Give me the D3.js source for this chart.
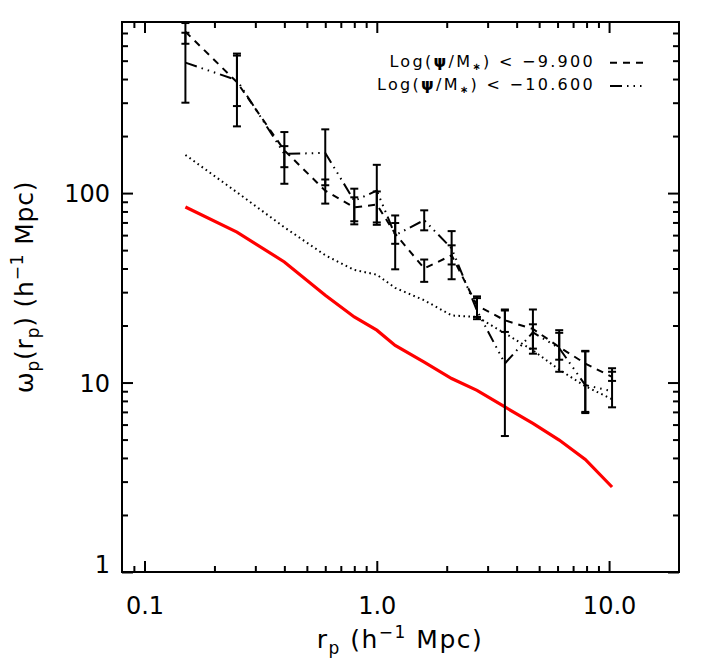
<!DOCTYPE html>
<html><head><meta charset="utf-8">
<script src="https://cdn.jsdelivr.net/npm/d3@7"></script>
<style>
body{margin:0;background:#fff}
svg{display:block}
text{font-family:"DejaVu Sans",sans-serif;fill:#000}
</style>
</head><body>
<svg id="chart" width="706" height="663"></svg>
<script>
// ---- data ----
const rp = [0.15, 0.25, 0.40, 0.60, 0.80, 1.0, 1.2, 1.6, 2.1, 2.7, 3.56, 4.7, 6.1, 7.9, 10.3];
// Log(psi/M*) < -9.900 (dashed)
const wA   = [711, 385, 168, 103, 84, 87, 61, 40, 47, 25.5, 21.3, 19.2, 15.4, 12.6, 10.7];
const wAlo = [614, 288, 137, 88, 71, 70, 54, 34, 42, 22.2, 18.5, 15.1, 13.2, 7.0, 10.2];
const wAhi = [790, 532, 177, 118, 95, 102, 69.5, 44.6, 53, 27.9, 24.0, 20.3, 18.3, 14.6, 11.4];
// Log(psi/M*) < -10.600 (dash-dot-dot-dot)
const wB   = [488, 395, 161, 163, 91, 103, 60, 72, 51, 24, 12.6, 18.4, 15.2, 9.7, 9.0];
const wBlo = [300, 225, 112, 110, 68.4, 68, 39.6, 63.6, 35.1, 21.6, 5.22, 14.2, 11.4, 6.9, 7.4];
const wBhi = [702, 545, 210, 217, 105.5, 141, 76.2, 81.1, 63, 28.5, 24.3, 24.3, 18.9, 14.7, 11.9];
// plain dotted curve
const wC   = [159, 101, 66, 47, 39.3, 37.1, 31.6, 27.2, 22.6, 22.2, 18.2, 14.8, 11.7, 9.56, 8.17];
// red solid curve
const wRed = [84.4, 62.3, 43.3, 28.9, 22.2, 18.9, 15.7, 12.8, 10.5, 9.1, 7.43, 6.08, 4.97, 3.93, 2.81];

const xMajor = [0.1, 1, 10];
const xMajorLabels = ["0.1", "1.0", "10.0"];
const xMinor = [0.09, 0.2, 0.3, 0.4, 0.5, 0.6, 0.7, 0.8, 0.9, 2, 3, 4, 5, 6, 7, 8, 9];
const yMajor = [1, 10, 100];
const yMajorLabels = ["1", "10", "100"];
const yMinor = [2,3,4,5,6,7,8,9,20,30,40,50,60,70,80,90,200,300,400,500,600,700];
const legendThresholds = ["−9.900", "−10.600"];

// ---- layout ----
const L = 122, R = 679, T = 22, B = 572;
const svg = d3.select("#chart");
const x = d3.scaleLog().domain([0.08, 20]).range([L, R]);
const y = d3.scaleLog().domain([1, 800]).range([B, T]);

svg.append("defs").append("clipPath").attr("id","clip")
  .append("rect").attr("x",L).attr("y",T).attr("width",R-L).attr("height",B-T);

function styleAxis(g){ g.select(".domain").remove(); g.selectAll("line").attr("stroke","#000").attr("stroke-width",2); }
svg.append("g").attr("transform",`translate(0,${B})`)
  .call(d3.axisBottom(x).tickValues(xMajor).tickSize(-11).tickPadding(25).tickFormat((d,i)=>xMajorLabels[i]))
  .call(styleAxis).selectAll("text").attr("font-size",24).attr("font-family","DejaVu Sans").attr("fill","#000");
svg.append("g").attr("transform",`translate(0,${B})`)
  .call(d3.axisBottom(x).tickValues(xMinor).tickSize(-6).tickFormat("")).call(styleAxis);
svg.append("g").attr("transform",`translate(0,${T})`)
  .call(d3.axisTop(x).tickValues(xMajor).tickSize(-11).tickFormat("")).call(styleAxis);
svg.append("g").attr("transform",`translate(0,${T})`)
  .call(d3.axisTop(x).tickValues(xMinor).tickSize(-6).tickFormat("")).call(styleAxis);

const yl = svg.append("g").attr("transform",`translate(${L},0)`)
  .call(d3.axisLeft(y).tickValues(yMajor).tickSize(-11).tickPadding(12).tickFormat((d,i)=>yMajorLabels[i]))
  .call(styleAxis);
yl.selectAll("text").attr("font-size",24).attr("font-family","DejaVu Sans").attr("fill","#000")
  .attr("dy",(d)=> d===1 ? "0.0em" : "0.36em");
svg.append("g").attr("transform",`translate(${L},0)`)
  .call(d3.axisLeft(y).tickValues(yMinor).tickSize(-6).tickFormat("")).call(styleAxis);
svg.append("g").attr("transform",`translate(${R},0)`)
  .call(d3.axisRight(y).tickValues(yMajor).tickSize(-11).tickFormat("")).call(styleAxis);
svg.append("g").attr("transform",`translate(${R},0)`)
  .call(d3.axisRight(y).tickValues(yMinor).tickSize(-6).tickFormat("")).call(styleAxis);

svg.append("rect").attr("x",L).attr("y",T).attr("width",R-L).attr("height",B-T)
  .attr("fill","none").attr("stroke","#000").attr("stroke-width",2);

// ---- data marks ----
const plot = svg.append("g").attr("clip-path","url(#clip)");
const line = d3.line().x(d=>x(d[0])).y(d=>y(d[1]));
const zipS = v => rp.map((r,i)=>[r, v[i]]);

const dashA = "7,6";
const dashB = "12,5,1.5,5,1.5,5,1.5,5";

plot.append("path").attr("d", line(zipS(wRed))).attr("fill","none")
  .attr("stroke","#ff0000").attr("stroke-width",3.2);
plot.append("path").attr("d", line(zipS(wC))).attr("fill","none")
  .attr("stroke","#000").attr("stroke-width",2).attr("stroke-dasharray","1.6,3.4");
plot.append("path").attr("d", line(zipS(wA))).attr("fill","none")
  .attr("stroke","#000").attr("stroke-width",2).attr("stroke-dasharray",dashA);
plot.append("path").attr("d", line(zipS(wB))).attr("fill","none")
  .attr("stroke","#000").attr("stroke-width",2).attr("stroke-dasharray",dashB);

function errBars(lo, hi){
  const g = plot.append("g").attr("stroke","#000").attr("stroke-width",2);
  rp.forEach((r,i)=>{
    const cx = x(r);
    g.append("line").attr("x1",cx).attr("x2",cx).attr("y1",y(lo[i])).attr("y2",y(hi[i]));
    g.append("line").attr("x1",cx-4).attr("x2",cx+4).attr("y1",y(lo[i])).attr("y2",y(lo[i]));
    g.append("line").attr("x1",cx-4).attr("x2",cx+4).attr("y1",y(hi[i])).attr("y2",y(hi[i]));
  });
}
errBars(wAlo, wAhi);
errBars(wBlo, wBhi);

// ---- legend ----
const legendDash = [dashA, dashB];
legendThresholds.forEach((thr,i)=>{
  const by = 66.7 + i*23.3;
  const t = svg.append("text").attr("x",595).attr("y",by).attr("text-anchor","end")
    .attr("font-size",16).attr("letter-spacing",2.3);
  t.append("tspan").text("Log(");
  t.append("tspan").attr("font-weight","bold").text("ψ");
  t.append("tspan").text("/M");
  t.append("tspan").attr("font-size",10).attr("font-weight","bold").attr("dy",3).text("∗");
  t.append("tspan").attr("dy",-3).text(") < " + thr);
  svg.append("line").attr("x1",610).attr("x2",646).attr("y1",by-4).attr("y2",by-4)
    .attr("stroke","#000").attr("stroke-width",2).attr("stroke-dasharray",legendDash[i]);
});

// ---- axis titles ----
const xt = svg.append("text").attr("x",400).attr("y",648).attr("text-anchor","middle")
  .attr("font-size",25).attr("letter-spacing",1.5);
xt.append("tspan").text("r");
xt.append("tspan").attr("font-size",17).attr("dy",6).text("p");
xt.append("tspan").attr("dy",-6).text(" (h");
xt.append("tspan").attr("font-size",17).attr("dy",-10).text("−1");
xt.append("tspan").attr("dy",10).text(" Mpc)");

const yt = svg.append("text").attr("transform","translate(33,287) rotate(-90)").attr("text-anchor","middle")
  .attr("font-size",25).attr("letter-spacing",0.8);
yt.append("tspan").text("ω");
yt.append("tspan").attr("font-size",17).attr("dy",6).text("p");
yt.append("tspan").attr("dy",-6).text("(r");
yt.append("tspan").attr("font-size",17).attr("dy",6).text("p");
yt.append("tspan").attr("dy",-6).text(")  (h");
yt.append("tspan").attr("font-size",17).attr("dy",-10).text("−1");
yt.append("tspan").attr("dy",10).text(" Mpc)");
</script>
</body></html>
